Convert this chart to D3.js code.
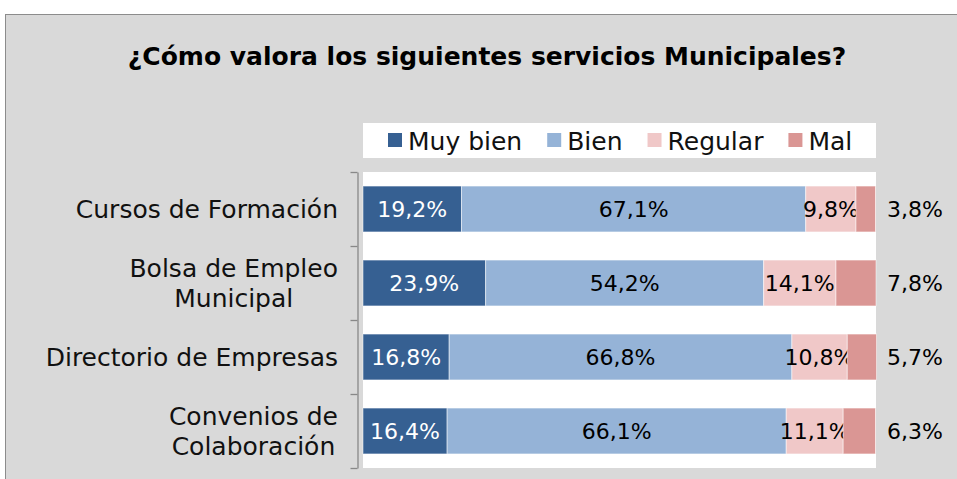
<!DOCTYPE html>
<html>
<head>
<meta charset="utf-8">
<script src="https://cdn.jsdelivr.net/npm/d3@7"></script>
<style>
  body { margin: 0; background: #fff; }
  svg { display: block; font-family: "DejaVu Sans", sans-serif; }
</style>
</head>
<body>
<svg id="chart" width="957" height="479"></svg>
<script>
// data
const categories = [["Cursos de Formación"], ["Bolsa de Empleo", "Municipal"], ["Directorio de Empresas"], ["Convenios de", "Colaboración"]]
const seriesNames = ["Muy bien", "Bien", "Regular", "Mal"]
const muyBien = [19.2, 23.9, 16.8, 16.4]
const bien = [67.1, 54.2, 66.8, 66.1]
const regular = [9.8, 14.1, 10.8, 11.1]
const mal = [3.8, 7.8, 5.7, 6.3]
const colors = ["#366092", "#95b3d7", "#f0c8c8", "#da9694"]
const labelColors = ["#fff", "#000", "#000", "#000"]

const svg = d3.select("#chart")
const W = 957, H = 479
const locale = d3.formatLocale({ decimal: ",", thousands: ".", grouping: [3], currency: ["", "€"] })
const fmt = v => locale.format(".1f")(v) + "%"

// chart background
svg.append("rect").attr("x", 5.5).attr("y", 14.5).attr("width", W).attr("height", H)
  .attr("fill", "#d9d9d9").attr("stroke", "#8c8c8c")

svg.append("text").attr("x", 487).attr("y", 65).attr("text-anchor", "middle")
  .attr("font-weight", "bold").attr("font-size", 25).attr("fill", "#000")
  .text("¿Cómo valora los siguientes servicios Municipales?")

const x = d3.scaleLinear().domain([0, 100]).range([363, 876])
const keys = categories.map((c, i) => i)
const y = d3.scaleBand().domain(keys).range([172, 468]).paddingInner(0.38).paddingOuter(0.19)

// plot area
svg.append("rect").attr("x", 363).attr("y", 172).attr("width", 513).attr("height", 296).attr("fill", "#fff")

const rows = keys.map(i => ({ i, v: [muyBien[i], bien[i], regular[i], mal[i]] }))
const stack = d3.stack().keys([0, 1, 2, 3]).value((d, k) => d.v[k])(rows)

const layers = svg.append("g").selectAll("g").data(stack).enter().append("g")
  .attr("fill", (d, k) => colors[k])
layers.selectAll("rect").data(d => d).enter().append("rect")
  .attr("x", d => x(d[0]))
  .attr("y", d => y(d.data.i))
  .attr("width", d => x(d[1]) - x(d[0]))
  .attr("height", y.bandwidth())
  .attr("stroke", "#fff").attr("stroke-opacity", 0.5).attr("stroke-width", 1)

// data labels
layers.each(function (layer, k) {
  d3.select(this).selectAll("text").data(layer).enter().append("text")
    .attr("x", d => k < 3 ? (x(d[0]) + x(d[1])) / 2 : x(100) + 11)
    .attr("y", d => y(d.data.i) + y.bandwidth() / 2)
    .attr("dy", "0.36em")
    .attr("text-anchor", k < 3 ? "middle" : "start")
    .attr("font-size", 22).attr("fill", labelColors[k])
    .text(d => fmt(d.data.v[k]))
})

// category axis
const yAxisScale = d3.scaleLinear().domain([0, 4]).range([172, 468])
const axisG = svg.append("g").attr("transform", "translate(357.5,0)")
  .call(d3.axisLeft(yAxisScale).tickValues([0, 1, 2, 3, 4]).tickFormat("").tickSize(7).tickSizeOuter(0))
axisG.selectAll("path, line").attr("stroke", "#888").attr("stroke-width", 1.3)

// category labels
const catG = svg.append("g")
categories.forEach((lines, i) => {
  const g = catG.append("g")
  const cy = y(i) + y.bandwidth() / 2
  const lh = 30
  const t = g.append("text").attr("font-size", 25).attr("fill", "#111").attr("text-anchor", "middle")
  lines.forEach((ln, j) => {
    t.append("tspan").attr("x", 0).attr("y", cy + (j - (lines.length - 1) / 2) * lh).attr("dy", "0.36em").text(ln)
  })
  const w = t.node().getBBox().width
  g.attr("transform", `translate(${338 - w / 2},0)`)
})

// legend
svg.append("rect").attr("x", 363).attr("y", 123).attr("width", 513).attr("height", 35).attr("fill", "#fff")
let lx = 388
seriesNames.forEach((name, k) => {
  svg.append("rect").attr("x", lx).attr("y", 133).attr("width", 14).attr("height", 14).attr("fill", colors[k])
  const t = svg.append("text").attr("x", lx + 20).attr("y", 141).attr("dy", "0.36em")
    .attr("font-size", 25).attr("fill", "#111").text(name)
  lx += 20 + t.node().getComputedTextLength() + 25
})
</script>
</body>
</html>
